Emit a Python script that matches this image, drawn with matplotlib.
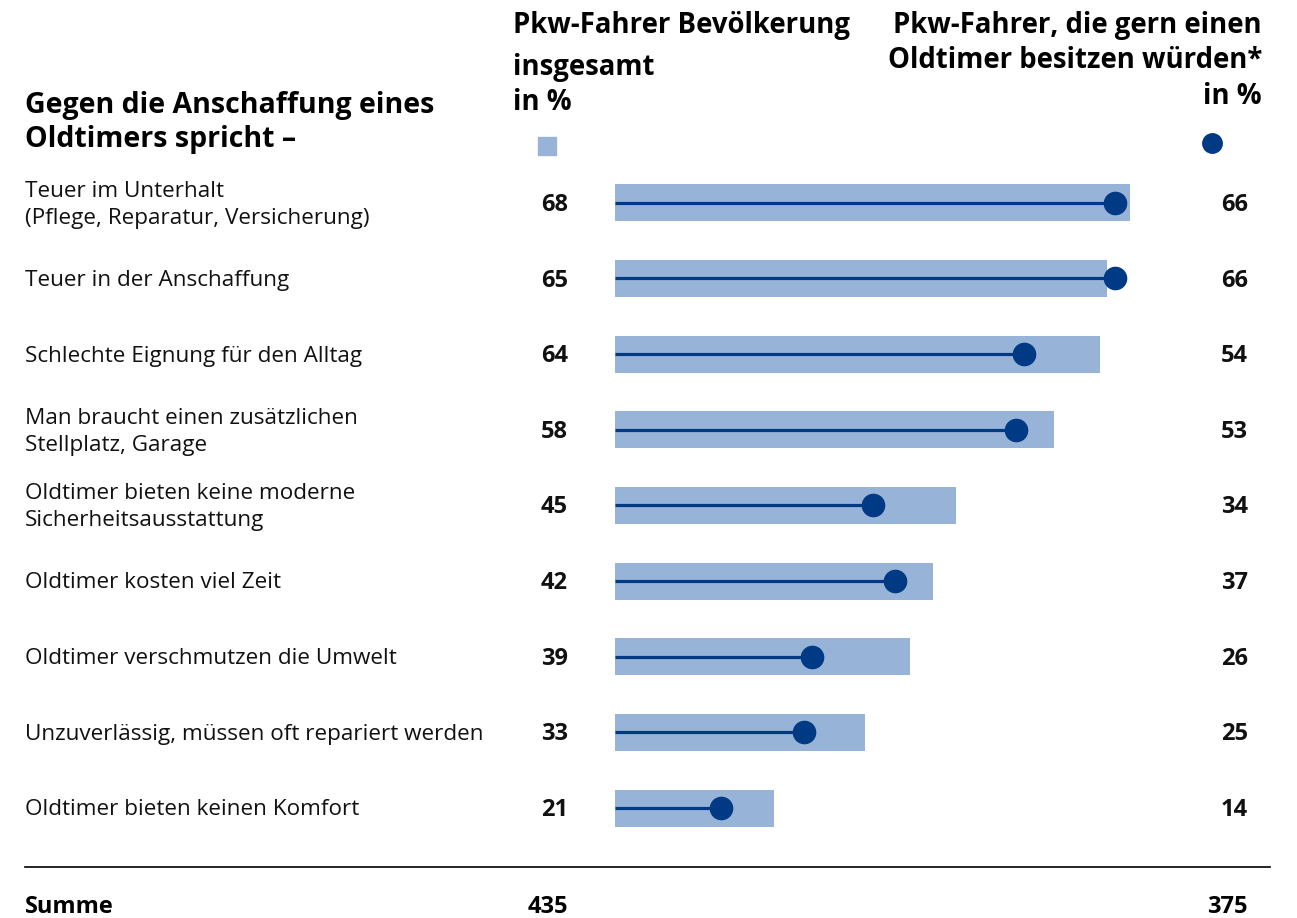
import numpy as np
import matplotlib.pyplot as plt

plt.rcParams["font.family"] = ["Open Sans", "DejaVu Sans"]

# Daten
labels = [
    "Teuer im Unterhalt\n(Pflege, Reparatur, Versicherung)",
    "Teuer in der Anschaffung",
    "Schlechte Eignung für den Alltag",
    "Man braucht einen zusätzlichen\nStellplatz, Garage",
    "Oldtimer bieten keine moderne\nSicherheitsausstattung",
    "Oldtimer kosten viel Zeit",
    "Oldtimer verschmutzen die Umwelt",
    "Unzuverlässig, müssen oft repariert werden",
    "Oldtimer bieten keinen Komfort",
]
gesamt = [68, 65, 64, 58, 45, 42, 39, 33, 21]
oldtimer_fans = [66, 66, 54, 53, 34, 37, 26, 25, 14]
summe_gesamt = 435
summe_fans = 375

bar_color = "#98b3d8"
dot_color = "#003a85"

W, H = 1297, 918
fig = plt.figure(figsize=(W / 100, H / 100), dpi=100)


def fx(px):
    return px / W


def fy(py):
    return 1 - py / H


# Balkenbereich: x=0 bei 615px, 68 bei 1130px; Zeilen 203..808px
ax = fig.add_axes([fx(615), fy(846), fx(1130) - fx(615), fy(165) - fy(846)])
ax.set_xlim(0, 68)
ax.set_ylim(8.5, -0.5)
ax.axis("off")

y = np.arange(len(labels))
ax.barh(y, gesamt, height=0.49, color=bar_color, zorder=1)
for yi, v in zip(y, oldtimer_fans):
    ax.plot([0, v], [yi, yi], color=dot_color, lw=2.3, solid_capstyle="butt", zorder=2)
ax.plot(oldtimer_fans, y, "o", color=dot_color, markersize=16, zorder=3, clip_on=False)

# Zeilentexte
row_px = 203 + y * 75.6
for rp, lab, g, o in zip(row_px, labels, gesamt, oldtimer_fans):
    fig.text(fx(25), fy(rp + 2), lab, fontsize=16.2, va="center", ha="left",
             linespacing=1.38, color="#111111")
    fig.text(fx(568), fy(rp + 2), str(g), fontsize=17, fontweight="bold",
             va="center", ha="right", color="#111111")
    fig.text(fx(1248), fy(rp + 2), str(o), fontsize=17, fontweight="bold",
             va="center", ha="right", color="#111111")

# Kopfzeilen
for txt, yp in [("Gegen die Anschaffung eines", 106), ("Oldtimers spricht –", 139)]:
    fig.text(fx(25), fy(yp), txt, fontsize=20.5, fontweight="bold", va="center", ha="left")
for txt, yp in [("Pkw-Fahrer Bevölkerung", 26), ("insgesamt", 67), ("in %", 102)]:
    fig.text(fx(513), fy(yp), txt, fontsize=19.8, fontweight="bold", va="center", ha="left")
for txt, yp in [("Pkw-Fahrer, die gern einen", 26), ("Oldtimer besitzen würden*", 61),
                ("in %", 96)]:
    fig.text(fx(1262), fy(yp), txt, fontsize=19.8, fontweight="bold", va="center", ha="right")

# Legende
fig.patches.append(plt.Rectangle((fx(538), fy(155)), fx(18), 18 / H, color=bar_color,
                                 transform=fig.transFigure, figure=fig))
fig.lines.append(plt.Line2D([fx(1212)], [fy(143)], marker="o", markersize=14,
                            color=dot_color, transform=fig.transFigure, figure=fig))

# Trennlinie und Summe
fig.lines.append(plt.Line2D([fx(25), fx(1270)], [fy(867), fy(867)], color="black",
                            lw=1.2, transform=fig.transFigure, figure=fig))
fig.text(fx(25), fy(907), "Summe", fontsize=17, fontweight="bold", va="center", ha="left")
fig.text(fx(568), fy(907), str(summe_gesamt), fontsize=17, fontweight="bold",
         va="center", ha="right")
fig.text(fx(1248), fy(907), str(summe_fans), fontsize=17, fontweight="bold",
         va="center", ha="right")

fig.savefig("out.png", dpi=100, facecolor="white")
